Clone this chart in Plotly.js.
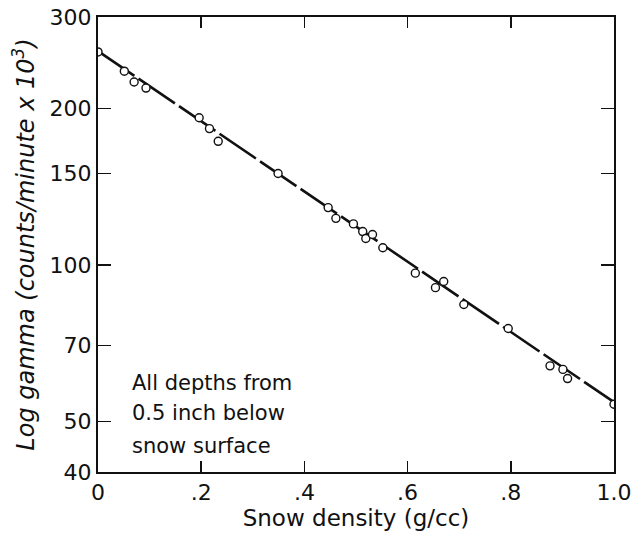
<!DOCTYPE html>
<html>
<head>
<meta charset="utf-8">
<script src="https://cdn.plot.ly/plotly-3.0.1.min.js"></script>
<style>html,body{margin:0;padding:0;background:#fff;}#chart{width:641px;height:535px;}</style>
</head>
<body>
<div id="chart"></div>
<script>
// Observed data points (snow density g/cc vs gamma counts/minute x 10^3)
var densityPts = [0.0, 0.051, 0.070, 0.093, 0.196, 0.216, 0.233, 0.349, 0.446, 0.461, 0.495, 0.513, 0.519, 0.532, 0.552, 0.615, 0.654, 0.670, 0.709, 0.795, 0.876, 0.901, 0.910, 1.0];
var gammaPts = [257, 236, 225, 219, 192, 183, 173, 150, 129, 123, 120, 116, 112.5, 114.5, 108, 96.5, 90.5, 93, 84, 75.5, 64, 63, 60.5, 54];
// Fitted line endpoints
var fitX = [0.0, 1.0];
var fitY = [258, 54.5];
// Tick labels
var xTickVals = [0, 0.2, 0.4, 0.6, 0.8, 1.0];
var xTickText = ["0", ".2", ".4", ".6", ".8", "1.0"];
var yTickVals = [40, 50, 70, 100, 150, 200, 300];
var yTickText = ["40", "50", "70", "100", "150", "200", "300"];
var noteLines = ["All depths from", "0.5 inch below", "snow surface"];

var font = "DejaVu Sans, Liberation Sans, sans-serif";

var traces = [
  {x: fitX, y: fitY, mode: "lines", type: "scatter",
   line: {color: "#111", width: 2.6, dash: "44px,5px"}, hoverinfo: "skip"},
  {x: densityPts, y: gammaPts, mode: "markers", type: "scatter",
   marker: {symbol: "circle", size: 8, color: "#fff", line: {color: "#111", width: 1.4}}}
];

var notePos = [0.196, 0.130, 0.058];
var annotations = noteLines.map(function (t, i) {
  return {text: t, xref: "paper", yref: "paper", x: 0.062, y: notePos[i],
          xanchor: "left", yanchor: "middle", showarrow: false,
          font: {family: font, size: 21, color: "#111"}};
});

var layout = {
  width: 641, height: 535,
  margin: {l: 98, r: 27, t: 17, b: 63},
  paper_bgcolor: "#fff", plot_bgcolor: "#fff",
  showlegend: false,
  font: {family: font, color: "#111"},
  xaxis: {
    range: [0, 1.0], tickvals: xTickVals, ticktext: xTickText,
    ticks: "inside", ticklen: 11, tickwidth: 1.5, tickcolor: "#111",
    showline: true, linecolor: "#111", linewidth: 2, mirror: "ticks",
    showgrid: false, zeroline: false,
    tickfont: {family: font, size: 22, color: "#111"},
    title: {text: "Snow density (g/cc)", font: {family: font, size: 23, color: "#111"}, standoff: 4}
  },
  yaxis: {
    type: "log", range: [Math.log10(40), Math.log10(300)],
    tickvals: yTickVals, ticktext: yTickText,
    ticks: "inside", ticklen: 13, tickwidth: 1.5, tickcolor: "#111",
    showline: true, linecolor: "#111", linewidth: 2, mirror: "ticks",
    showgrid: false, zeroline: false,
    tickfont: {family: font, size: 22, color: "#111"},
    title: {text: "<i>Log gamma (counts/minute x 10<sup>3</sup>)</i>", font: {family: font, size: 24, color: "#111"}, standoff: 8}
  },
  annotations: annotations
};

Plotly.newPlot("chart", traces, layout, {displayModeBar: false, staticPlot: true});
</script>
</body>
</html>
